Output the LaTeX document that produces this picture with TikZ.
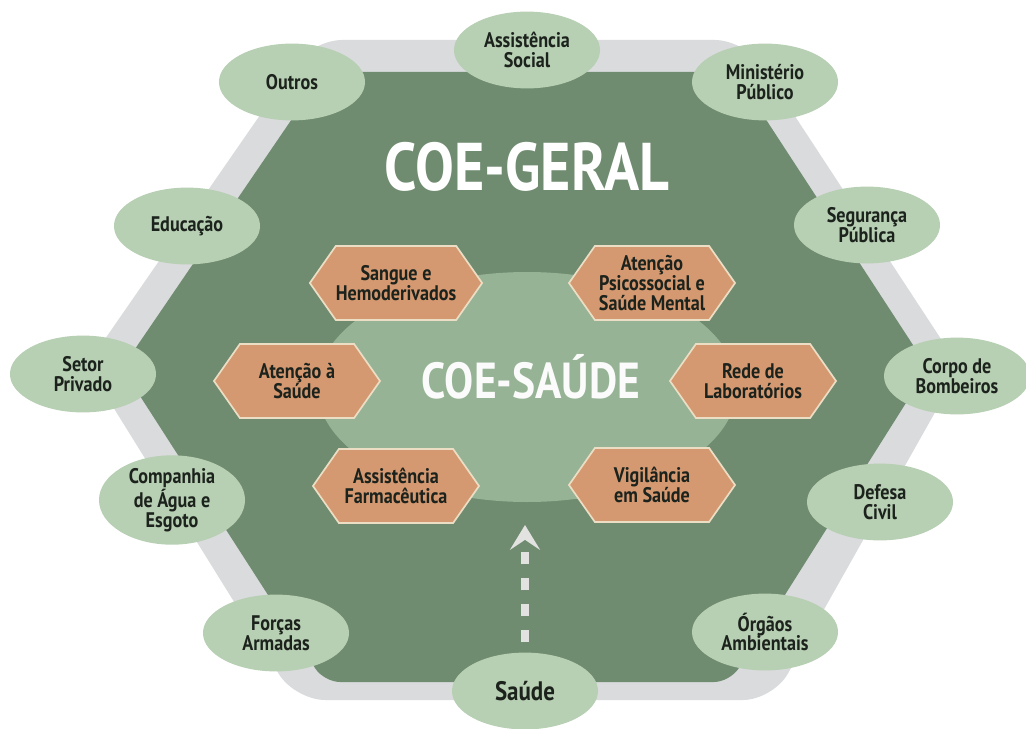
\documentclass[tikz,border=0pt]{standalone}
\usepackage{fontspec}
\setmainfont{PT Sans}[FakeStretch=0.86]
\usetikzlibrary{arrows.meta,shapes.geometric,shapes.symbols}
\definecolor{bandgray}{RGB}{217,219,220}
\definecolor{geralgreen}{RGB}{112,140,112}
\definecolor{saudegreen}{RGB}{151,179,149}
\definecolor{partnerfill}{RGB}{183,207,179}
\definecolor{areafill}{RGB}{212,153,113}
\definecolor{areaedge}{RGB}{236,222,196}
\definecolor{labeltext}{RGB}{28,34,28}
\definecolor{flowgray}{RGB}{226,227,225}
\tikzset{
  partner/.style={ellipse, fill=partnerfill, minimum width=3.65cm,
                  minimum height=1.92cm, inner sep=0pt, align=center,
                  text=labeltext, font=\bfseries\fontsize{15}{14}\selectfont},
  area/.style={signal, signal to=east and west, signal pointer angle=110,
               fill=areafill, draw=areaedge, line width=1.2pt,
               minimum width=4.15cm, minimum height=1.85cm, inner sep=0pt,
               align=center, text=labeltext,
               font=\bfseries\fontsize{15}{14}\selectfont},
  bigtitle/.style={text=white, font=\bfseries\fontsize{48}{48}\selectfont},
  midtitle/.style={text=white!95!saudegreen, font=\bfseries\fontsize{36}{36}\selectfont},
  upflow/.style={draw=flowgray, line width=0.2cm,
                 dash pattern=on 0.3cm off 0.35cm, shorten <=0.25cm,
                 -{Stealth[length=0.62cm, width=0.75cm, inset=0.25cm]}},
}
\begin{document}
\begin{tikzpicture}[x=0.025cm, y=-0.025cm]
  \useasboundingbox (0,0) rectangle (1026,729);
  % outer band and COE-GERAL field
  \fill[bandgray, rounded corners=0.75cm]
    (312,40) -- (745,40) -- (960,368) -- (773,700) -- (295,700) -- (87,365) -- cycle;
  \fill[geralgreen, rounded corners=0.4cm]
    (324,72) -- (735,72) -- (928,368) -- (730,682) -- (324,682) -- (122,368) -- cycle;
  \fill[saudegreen] (527,387) ellipse [x radius=210, y radius=115];

  \node[bigtitle, anchor=base] (geral) at (527,190) {COE-GERAL};
  \node[midtitle, anchor=base] (coesaude) at (531,398) {COE-SAÚDE};

  % technical areas of COE-SAUDE
  \node[area] (sangue) at (396,283) {Sangue e\\Hemoderivados};
  \node[area] (psico) at (652,283) {Atenção\\Psicossocial e\\Saúde Mental};
  \node[area] (atencao) at (297,381) {Atenção à\\Saúde};
  \node[area] (rede) at (753,381) {Rede de\\Laboratórios};
  \node[area] (farma) at (396,486) {Assistência\\Farmacêutica};
  \node[area] (vigil) at (652,485) {Vigilância\\em Saúde};

  % partner sectors round the hexagon
  \node[partner] (assist) at (527,50) {Assistência\\Social};
  \node[partner] (outros) at (292,82) {Outros};
  \node[partner] (minist) at (765,82) {Ministério\\Público};
  \node[partner] (educ) at (187,226) {Educação};
  \node[partner] (segur) at (867,225) {Segurança\\Pública};
  \node[partner] (setor) at (83,374) {Setor\\Privado};
  \node[partner] (corpo) at (957,376) {Corpo de\\Bombeiros};
  \node[partner] (compan) at (172,500) {Companhia\\de Água e\\Esgoto};
  \node[partner] (defesa) at (880,502) {Defesa\\Civil};
  \node[partner] (forcas) at (276,633) {Forças\\Armadas};
  \node[partner] (orgaos) at (765,632) {Órgãos\\Ambientais};
  \node[partner, font=\bfseries\fontsize{19}{19}\selectfont] (saude) at (525,691) {Saúde};

  \coordinate (flowtip) at (525,525);
  \draw[upflow] (saude) -- (flowtip);
\end{tikzpicture}
\end{document}
